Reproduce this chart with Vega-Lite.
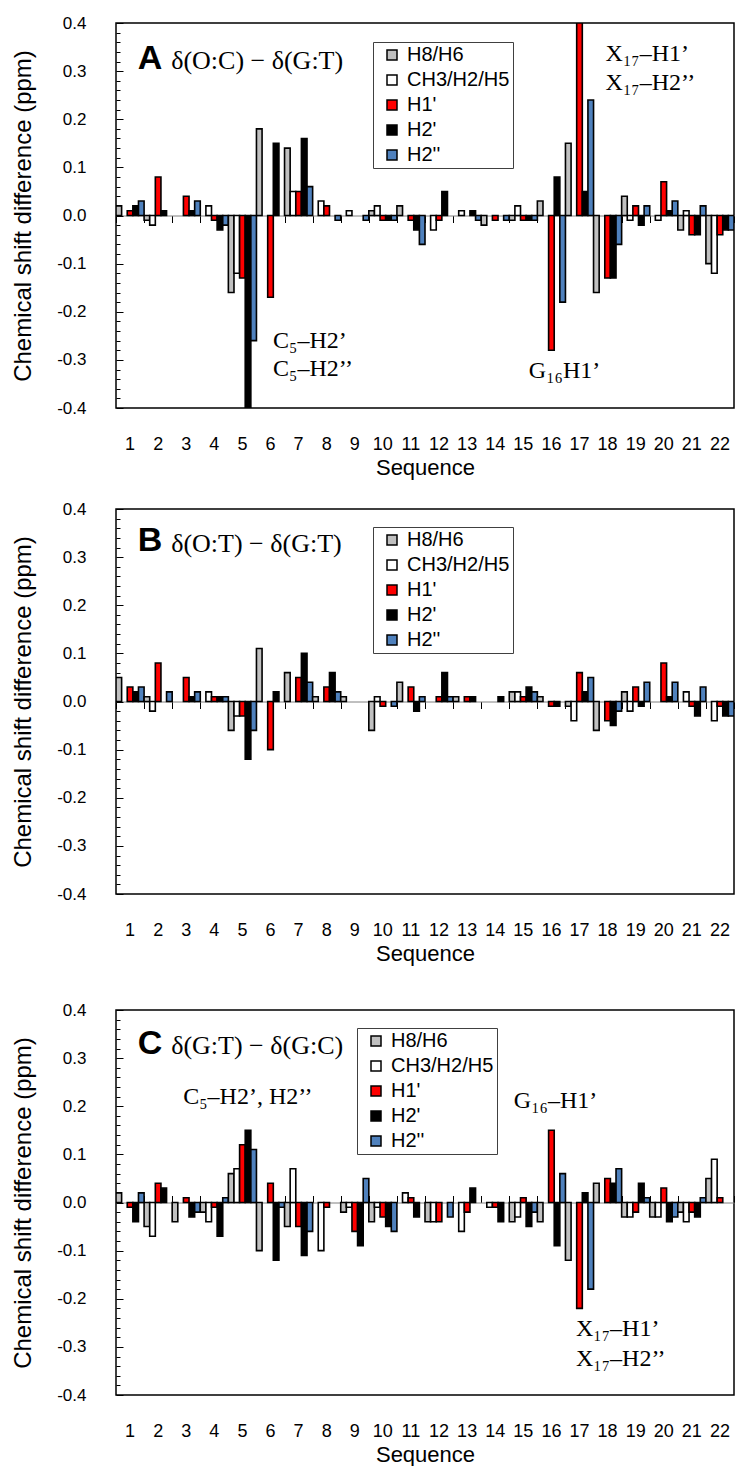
{
"$schema": "https://vega.github.io/schema/vega-lite/v6.json",
"padding": {"left": 10, "top": 13, "right": 2, "bottom": 0},
"background": "white",
"config": {
  "view": {"stroke": "black", "strokeWidth": 1.5},
  "axis": {"grid": false, "labelFont": "Liberation Sans", "titleFont": "Liberation Sans", "labelColor": "black", "titleColor": "black", "titleFontWeight": "normal"}
},
"datasets": {
"A": [
{"seq":1,"atom":"H8/H6","v":0.02},{"seq":1,"atom":"H1'","v":0.01},{"seq":1,"atom":"H2'","v":0.02},{"seq":1,"atom":"H2''","v":0.03},
{"seq":2,"atom":"H8/H6","v":-0.01},{"seq":2,"atom":"CH3/H2/H5","v":-0.02},{"seq":2,"atom":"H1'","v":0.08},{"seq":2,"atom":"H2'","v":0.01},
{"seq":3,"atom":"H1'","v":0.04},{"seq":3,"atom":"H2'","v":0.01},{"seq":3,"atom":"H2''","v":0.03},
{"seq":4,"atom":"CH3/H2/H5","v":0.02},{"seq":4,"atom":"H1'","v":-0.01},{"seq":4,"atom":"H2'","v":-0.03},{"seq":4,"atom":"H2''","v":-0.02},
{"seq":5,"atom":"H8/H6","v":-0.16},{"seq":5,"atom":"CH3/H2/H5","v":-0.12},{"seq":5,"atom":"H1'","v":-0.13},{"seq":5,"atom":"H2'","v":-0.4},{"seq":5,"atom":"H2''","v":-0.26},
{"seq":6,"atom":"H8/H6","v":0.18},{"seq":6,"atom":"H1'","v":-0.17},{"seq":6,"atom":"H2'","v":0.15},
{"seq":7,"atom":"H8/H6","v":0.14},{"seq":7,"atom":"CH3/H2/H5","v":0.05},{"seq":7,"atom":"H1'","v":0.05},{"seq":7,"atom":"H2'","v":0.16},{"seq":7,"atom":"H2''","v":0.06},
{"seq":8,"atom":"CH3/H2/H5","v":0.03},{"seq":8,"atom":"H1'","v":0.02},{"seq":8,"atom":"H2''","v":-0.01},
{"seq":9,"atom":"CH3/H2/H5","v":0.01},{"seq":9,"atom":"H2''","v":-0.01},
{"seq":10,"atom":"H8/H6","v":0.01},{"seq":10,"atom":"CH3/H2/H5","v":0.02},{"seq":10,"atom":"H1'","v":-0.01},{"seq":10,"atom":"H2'","v":-0.01},{"seq":10,"atom":"H2''","v":-0.01},
{"seq":11,"atom":"H8/H6","v":0.02},{"seq":11,"atom":"H1'","v":-0.01},{"seq":11,"atom":"H2'","v":-0.03},{"seq":11,"atom":"H2''","v":-0.06},
{"seq":12,"atom":"CH3/H2/H5","v":-0.03},{"seq":12,"atom":"H1'","v":-0.01},{"seq":12,"atom":"H2'","v":0.05},
{"seq":13,"atom":"CH3/H2/H5","v":0.01},{"seq":13,"atom":"H2'","v":0.01},{"seq":13,"atom":"H2''","v":-0.01},
{"seq":14,"atom":"H8/H6","v":-0.02},{"seq":14,"atom":"H1'","v":-0.01},{"seq":14,"atom":"H2''","v":-0.01},
{"seq":15,"atom":"H8/H6","v":-0.01},{"seq":15,"atom":"CH3/H2/H5","v":0.02},{"seq":15,"atom":"H1'","v":-0.01},{"seq":15,"atom":"H2'","v":-0.01},{"seq":15,"atom":"H2''","v":-0.01},
{"seq":16,"atom":"H8/H6","v":0.03},{"seq":16,"atom":"H1'","v":-0.28},{"seq":16,"atom":"H2'","v":0.08},{"seq":16,"atom":"H2''","v":-0.18},
{"seq":17,"atom":"H8/H6","v":0.15},{"seq":17,"atom":"H1'","v":0.4},{"seq":17,"atom":"H2'","v":0.05},{"seq":17,"atom":"H2''","v":0.24},
{"seq":18,"atom":"H8/H6","v":-0.16},{"seq":18,"atom":"H1'","v":-0.13},{"seq":18,"atom":"H2'","v":-0.13},{"seq":18,"atom":"H2''","v":-0.06},
{"seq":19,"atom":"H8/H6","v":0.04},{"seq":19,"atom":"CH3/H2/H5","v":-0.01},{"seq":19,"atom":"H1'","v":0.02},{"seq":19,"atom":"H2'","v":-0.02},{"seq":19,"atom":"H2''","v":0.02},
{"seq":20,"atom":"CH3/H2/H5","v":-0.01},{"seq":20,"atom":"H1'","v":0.07},{"seq":20,"atom":"H2'","v":0.01},{"seq":20,"atom":"H2''","v":0.03},
{"seq":21,"atom":"H8/H6","v":-0.03},{"seq":21,"atom":"CH3/H2/H5","v":0.01},{"seq":21,"atom":"H1'","v":-0.04},{"seq":21,"atom":"H2'","v":-0.04},{"seq":21,"atom":"H2''","v":0.02},
{"seq":22,"atom":"H8/H6","v":-0.1},{"seq":22,"atom":"CH3/H2/H5","v":-0.12},{"seq":22,"atom":"H1'","v":-0.04},{"seq":22,"atom":"H2'","v":-0.03},{"seq":22,"atom":"H2''","v":-0.03}
],
"B": [
{"seq":1,"atom":"H8/H6","v":0.05},{"seq":1,"atom":"H1'","v":0.03},{"seq":1,"atom":"H2'","v":0.02},{"seq":1,"atom":"H2''","v":0.03},
{"seq":2,"atom":"H8/H6","v":0.01},{"seq":2,"atom":"CH3/H2/H5","v":-0.02},{"seq":2,"atom":"H1'","v":0.08},{"seq":2,"atom":"H2''","v":0.02},
{"seq":3,"atom":"H1'","v":0.05},{"seq":3,"atom":"H2'","v":0.01},{"seq":3,"atom":"H2''","v":0.02},
{"seq":4,"atom":"CH3/H2/H5","v":0.02},{"seq":4,"atom":"H1'","v":0.01},{"seq":4,"atom":"H2'","v":0.01},{"seq":4,"atom":"H2''","v":0.01},
{"seq":5,"atom":"H8/H6","v":-0.06},{"seq":5,"atom":"CH3/H2/H5","v":-0.03},{"seq":5,"atom":"H1'","v":-0.03},{"seq":5,"atom":"H2'","v":-0.12},{"seq":5,"atom":"H2''","v":-0.06},
{"seq":6,"atom":"H8/H6","v":0.11},{"seq":6,"atom":"H1'","v":-0.1},{"seq":6,"atom":"H2'","v":0.02},
{"seq":7,"atom":"H8/H6","v":0.06},{"seq":7,"atom":"H1'","v":0.05},{"seq":7,"atom":"H2'","v":0.1},{"seq":7,"atom":"H2''","v":0.04},
{"seq":8,"atom":"H8/H6","v":0.01},{"seq":8,"atom":"H1'","v":0.03},{"seq":8,"atom":"H2'","v":0.06},{"seq":8,"atom":"H2''","v":0.02},
{"seq":9,"atom":"H8/H6","v":0.01},
{"seq":10,"atom":"H8/H6","v":-0.06},{"seq":10,"atom":"CH3/H2/H5","v":0.01},{"seq":10,"atom":"H1'","v":-0.01},{"seq":10,"atom":"H2''","v":-0.01},
{"seq":11,"atom":"H8/H6","v":0.04},{"seq":11,"atom":"H1'","v":0.03},{"seq":11,"atom":"H2'","v":-0.02},{"seq":11,"atom":"H2''","v":0.01},
{"seq":12,"atom":"H1'","v":0.01},{"seq":12,"atom":"H2'","v":0.06},{"seq":12,"atom":"H2''","v":0.01},
{"seq":13,"atom":"H8/H6","v":0.01},{"seq":13,"atom":"H1'","v":0.01},{"seq":13,"atom":"H2'","v":0.01},
{"seq":14,"atom":"H2'","v":0.01},
{"seq":15,"atom":"H8/H6","v":0.02},{"seq":15,"atom":"CH3/H2/H5","v":0.02},{"seq":15,"atom":"H1'","v":0.01},{"seq":15,"atom":"H2'","v":0.03},{"seq":15,"atom":"H2''","v":0.02},
{"seq":16,"atom":"H8/H6","v":0.01},{"seq":16,"atom":"H1'","v":-0.01},{"seq":16,"atom":"H2'","v":-0.01},
{"seq":17,"atom":"H8/H6","v":-0.01},{"seq":17,"atom":"CH3/H2/H5","v":-0.04},{"seq":17,"atom":"H1'","v":0.06},{"seq":17,"atom":"H2'","v":0.02},{"seq":17,"atom":"H2''","v":0.05},
{"seq":18,"atom":"H8/H6","v":-0.06},{"seq":18,"atom":"H1'","v":-0.04},{"seq":18,"atom":"H2'","v":-0.05},{"seq":18,"atom":"H2''","v":-0.02},
{"seq":19,"atom":"H8/H6","v":0.02},{"seq":19,"atom":"CH3/H2/H5","v":-0.02},{"seq":19,"atom":"H1'","v":0.03},{"seq":19,"atom":"H2'","v":-0.01},{"seq":19,"atom":"H2''","v":0.04},
{"seq":20,"atom":"H1'","v":0.08},{"seq":20,"atom":"H2'","v":0.01},{"seq":20,"atom":"H2''","v":0.04},
{"seq":21,"atom":"CH3/H2/H5","v":0.02},{"seq":21,"atom":"H1'","v":-0.01},{"seq":21,"atom":"H2'","v":-0.03},{"seq":21,"atom":"H2''","v":0.03},
{"seq":22,"atom":"CH3/H2/H5","v":-0.04},{"seq":22,"atom":"H1'","v":-0.01},{"seq":22,"atom":"H2'","v":-0.03},{"seq":22,"atom":"H2''","v":-0.03}
],
"C": [
{"seq":1,"atom":"H8/H6","v":0.02},{"seq":1,"atom":"H1'","v":-0.01},{"seq":1,"atom":"H2'","v":-0.04},{"seq":1,"atom":"H2''","v":0.02},
{"seq":2,"atom":"H8/H6","v":-0.05},{"seq":2,"atom":"CH3/H2/H5","v":-0.07},{"seq":2,"atom":"H1'","v":0.04},{"seq":2,"atom":"H2'","v":0.03},
{"seq":3,"atom":"H8/H6","v":-0.04},{"seq":3,"atom":"H1'","v":0.01},{"seq":3,"atom":"H2'","v":-0.03},{"seq":3,"atom":"H2''","v":-0.02},
{"seq":4,"atom":"H8/H6","v":-0.02},{"seq":4,"atom":"CH3/H2/H5","v":-0.04},{"seq":4,"atom":"H1'","v":-0.01},{"seq":4,"atom":"H2'","v":-0.07},{"seq":4,"atom":"H2''","v":0.01},
{"seq":5,"atom":"H8/H6","v":0.06},{"seq":5,"atom":"CH3/H2/H5","v":0.07},{"seq":5,"atom":"H1'","v":0.12},{"seq":5,"atom":"H2'","v":0.15},{"seq":5,"atom":"H2''","v":0.11},
{"seq":6,"atom":"H8/H6","v":-0.1},{"seq":6,"atom":"H1'","v":0.04},{"seq":6,"atom":"H2'","v":-0.12},{"seq":6,"atom":"H2''","v":-0.01},
{"seq":7,"atom":"H8/H6","v":-0.05},{"seq":7,"atom":"CH3/H2/H5","v":0.07},{"seq":7,"atom":"H1'","v":-0.05},{"seq":7,"atom":"H2'","v":-0.11},{"seq":7,"atom":"H2''","v":-0.06},
{"seq":8,"atom":"CH3/H2/H5","v":-0.1},{"seq":8,"atom":"H1'","v":-0.01},
{"seq":9,"atom":"H8/H6","v":-0.02},{"seq":9,"atom":"CH3/H2/H5","v":-0.01},{"seq":9,"atom":"H1'","v":-0.06},{"seq":9,"atom":"H2'","v":-0.09},{"seq":9,"atom":"H2''","v":0.05},
{"seq":10,"atom":"H8/H6","v":-0.04},{"seq":10,"atom":"CH3/H2/H5","v":-0.01},{"seq":10,"atom":"H1'","v":-0.03},{"seq":10,"atom":"H2'","v":-0.05},{"seq":10,"atom":"H2''","v":-0.06},
{"seq":11,"atom":"CH3/H2/H5","v":0.02},{"seq":11,"atom":"H1'","v":0.01},{"seq":11,"atom":"H2'","v":-0.03},
{"seq":12,"atom":"H8/H6","v":-0.04},{"seq":12,"atom":"CH3/H2/H5","v":-0.04},{"seq":12,"atom":"H1'","v":-0.04},{"seq":12,"atom":"H2''","v":-0.03},
{"seq":13,"atom":"CH3/H2/H5","v":-0.06},{"seq":13,"atom":"H1'","v":-0.02},{"seq":13,"atom":"H2'","v":0.03},
{"seq":14,"atom":"CH3/H2/H5","v":-0.01},{"seq":14,"atom":"H1'","v":-0.01},{"seq":14,"atom":"H2'","v":-0.04},
{"seq":15,"atom":"H8/H6","v":-0.04},{"seq":15,"atom":"CH3/H2/H5","v":-0.03},{"seq":15,"atom":"H1'","v":0.01},{"seq":15,"atom":"H2'","v":-0.05},{"seq":15,"atom":"H2''","v":-0.02},
{"seq":16,"atom":"H8/H6","v":-0.04},{"seq":16,"atom":"H1'","v":0.15},{"seq":16,"atom":"H2'","v":-0.09},{"seq":16,"atom":"H2''","v":0.06},
{"seq":17,"atom":"H8/H6","v":-0.12},{"seq":17,"atom":"H1'","v":-0.22},{"seq":17,"atom":"H2'","v":0.02},{"seq":17,"atom":"H2''","v":-0.18},
{"seq":18,"atom":"H8/H6","v":0.04},{"seq":18,"atom":"H1'","v":0.05},{"seq":18,"atom":"H2'","v":0.04},{"seq":18,"atom":"H2''","v":0.07},
{"seq":19,"atom":"H8/H6","v":-0.03},{"seq":19,"atom":"CH3/H2/H5","v":-0.03},{"seq":19,"atom":"H1'","v":-0.02},{"seq":19,"atom":"H2'","v":0.04},{"seq":19,"atom":"H2''","v":0.01},
{"seq":20,"atom":"H8/H6","v":-0.03},{"seq":20,"atom":"CH3/H2/H5","v":-0.03},{"seq":20,"atom":"H1'","v":0.03},{"seq":20,"atom":"H2'","v":-0.04},{"seq":20,"atom":"H2''","v":-0.03},
{"seq":21,"atom":"H8/H6","v":-0.02},{"seq":21,"atom":"CH3/H2/H5","v":-0.04},{"seq":21,"atom":"H1'","v":-0.02},{"seq":21,"atom":"H2'","v":-0.03},{"seq":21,"atom":"H2''","v":0.01},
{"seq":22,"atom":"H8/H6","v":0.05},{"seq":22,"atom":"CH3/H2/H5","v":0.09},{"seq":22,"atom":"H1'","v":0.01}
]
},
"spacing": 35,
"resolve": {"scale": {"color": "independent"}},
"vconcat": [
{
"spacing": 20,
"resolve": {"scale": {"color": "independent"}},
"vconcat": [
{
"width": 618, "height": 385,
"resolve": {"axis": {"x": "independent", "y": "independent"}},
"layer": [
{"data": {"name": "A"},
 "mark": {"type": "bar", "stroke": "black", "strokeWidth": 1.6, "clip": true},
 "encoding": {
  "x": {"field": "seq", "type": "ordinal", "scale": {"domain": [1,2,3,4,5,6,7,8,9,10,11,12,13,14,15,16,17,18,19,20,21,22], "paddingInner": 0, "paddingOuter": 0},
        "axis": {"orient": "bottom", "title": "Sequence", "ticks": false, "domain": false, "labelAngle": 0, "labelPadding": 27, "labelFontSize": 18, "titleFontSize": 22, "titlePadding": 4}},
  "xOffset": {"field": "atom", "type": "nominal", "scale": {"domain": ["H8/H6","CH3/H2/H5","H1'","H2'","H2''"], "paddingInner": 0, "paddingOuter": 0}},
  "y": {"field": "v", "type": "quantitative", "scale": {"domain": [-0.4, 0.4], "nice": false},
        "axis": {"orient": "left", "title": "Chemical shift difference (ppm)", "values": [-0.4,-0.3,-0.2,-0.1,0,0.1,0.2,0.3,0.4], "labelExpr": "replace(format(datum.value, '.1f'), '\u2212', '-')", "tickSize": -7, "tickColor": "black", "labelPadding": 37, "domain": false, "labelFontSize": 17, "titleFontSize": 24, "titlePadding": 21}},
  "color": {"field": "atom", "type": "nominal", "scale": {"domain": ["H8/H6","CH3/H2/H5","H1'","H2'","H2''"], "range": ["#c0c0c0","#ffffff","#ff0000","#000000","#4f81bd"]},
        "legend": {"orient": "none", "legendX": 257, "legendY": 19, "title": null, "direction": "vertical", "strokeColor": "#404040", "fillColor": "white", "padding": 3, "labelFont": "Liberation Sans", "labelFontSize": 20, "labelColor": "black", "symbolType": "square", "symbolSize": 100, "symbolOffset": 6, "rowPadding": 5, "labelOffset": 5, "labelLimit": 300}}
 }},
{"data": {"values": [{"seq": 2, "v": 0.326, "t": "A"}]},
 "mark": {"type": "text", "font": "Liberation Sans", "fontWeight": "bold", "fontSize": 34, "align": "center", "baseline": "middle", "dx": -8, "color": "black"},
 "encoding": {
  "x": {"field": "seq", "type": "ordinal", "axis": {"orient": "bottom", "offset": -192.5, "labels": false, "title": null, "ticks": true, "tickBand": "extent", "tickSize": 7, "tickColor": "black", "tickWidth": 1, "domain": true, "domainColor": "#808080", "domainWidth": 1}},
  "y": {"field": "v", "type": "quantitative", "axis": {"orient": "left", "values": [-0.38,-0.36,-0.34,-0.32,-0.28,-0.26,-0.24,-0.22,-0.18,-0.16,-0.14,-0.12,-0.08,-0.06,-0.04,-0.02,0.02,0.04,0.06,0.08,0.12,0.14,0.16,0.18,0.22,0.24,0.26,0.28,0.32,0.34,0.36,0.38], "labels": false, "title": null, "domain": false, "tickSize": -4, "tickColor": "black"}},
  "text": {"field": "t"}
 }},
{"data": {"values": [{"seq": 2, "v": 0.322, "t": "δ(O:C) − δ(G:T)"}]},
 "mark": {"type": "text", "font": "Liberation Serif", "fontSize": 26, "align": "left", "baseline": "middle", "dx": 13, "color": "black"},
 "encoding": {"x": {"field": "seq", "type": "ordinal", "axis": null}, "y": {"field": "v", "type": "quantitative", "axis": null}, "text": {"field": "t"}}},
{"data": {"values": [{"seq": 6, "v": -0.261, "t": "C₅–H2’"}, {"seq": 6, "v": -0.319, "t": "C₅–H2’’"}]},
 "mark": {"type": "text", "font": "Liberation Serif", "fontSize": 24, "align": "left", "baseline": "middle", "dx": 2.5, "color": "black"},
 "encoding": {"x": {"field": "seq", "type": "ordinal", "axis": null}, "y": {"field": "v", "type": "quantitative", "axis": null}, "text": {"field": "t"}}},
{"data": {"values": [{"seq": 15, "v": -0.323, "t": "G₁₆H1’"}]},
 "mark": {"type": "text", "font": "Liberation Serif", "fontSize": 24, "align": "left", "baseline": "middle", "dx": 5.5, "color": "black"},
 "encoding": {"x": {"field": "seq", "type": "ordinal", "axis": null}, "y": {"field": "v", "type": "quantitative", "axis": null}, "text": {"field": "t"}}},
{"data": {"values": [{"seq": 18, "v": 0.335, "t": "X₁₇–H1’"}, {"seq": 18, "v": 0.276, "t": "X₁₇–H2’’"}]},
 "mark": {"type": "text", "font": "Liberation Serif", "fontSize": 24, "align": "left", "baseline": "middle", "dx": -2, "color": "black"},
 "encoding": {"x": {"field": "seq", "type": "ordinal", "axis": null}, "y": {"field": "v", "type": "quantitative", "axis": null}, "text": {"field": "t"}}}
]
},
{
"width": 618, "height": 385,
"resolve": {"axis": {"x": "independent", "y": "independent"}},
"layer": [
{"data": {"name": "B"},
 "mark": {"type": "bar", "stroke": "black", "strokeWidth": 1.6, "clip": true},
 "encoding": {
  "x": {"field": "seq", "type": "ordinal", "scale": {"domain": [1,2,3,4,5,6,7,8,9,10,11,12,13,14,15,16,17,18,19,20,21,22], "paddingInner": 0, "paddingOuter": 0},
        "axis": {"orient": "bottom", "title": "Sequence", "ticks": false, "domain": false, "labelAngle": 0, "labelPadding": 27, "labelFontSize": 18, "titleFontSize": 22, "titlePadding": 4}},
  "xOffset": {"field": "atom", "type": "nominal", "scale": {"domain": ["H8/H6","CH3/H2/H5","H1'","H2'","H2''"], "paddingInner": 0, "paddingOuter": 0}},
  "y": {"field": "v", "type": "quantitative", "scale": {"domain": [-0.4, 0.4], "nice": false},
        "axis": {"orient": "left", "title": "Chemical shift difference (ppm)", "values": [-0.4,-0.3,-0.2,-0.1,0,0.1,0.2,0.3,0.4], "labelExpr": "replace(format(datum.value, '.1f'), '\u2212', '-')", "tickSize": -7, "tickColor": "black", "labelPadding": 37, "domain": false, "labelFontSize": 17, "titleFontSize": 24, "titlePadding": 21}},
  "color": {"field": "atom", "type": "nominal", "scale": {"domain": ["H8/H6","CH3/H2/H5","H1'","H2'","H2''"], "range": ["#c0c0c0","#ffffff","#ff0000","#000000","#4f81bd"]},
        "legend": {"orient": "none", "legendX": 257, "legendY": 18, "title": null, "direction": "vertical", "strokeColor": "#404040", "fillColor": "white", "padding": 3, "labelFont": "Liberation Sans", "labelFontSize": 20, "labelColor": "black", "symbolType": "square", "symbolSize": 100, "symbolOffset": 6, "rowPadding": 5, "labelOffset": 5, "labelLimit": 300}}
 }},
{"data": {"values": [{"seq": 2, "v": 0.333, "t": "B"}]},
 "mark": {"type": "text", "font": "Liberation Sans", "fontWeight": "bold", "fontSize": 34, "align": "center", "baseline": "middle", "dx": -8, "color": "black"},
 "encoding": {
  "x": {"field": "seq", "type": "ordinal", "axis": {"orient": "bottom", "offset": -192.5, "labels": false, "title": null, "ticks": true, "tickBand": "extent", "tickSize": 7, "tickColor": "black", "tickWidth": 1, "domain": true, "domainColor": "#808080", "domainWidth": 1}},
  "y": {"field": "v", "type": "quantitative", "axis": {"orient": "left", "values": [-0.38,-0.36,-0.34,-0.32,-0.28,-0.26,-0.24,-0.22,-0.18,-0.16,-0.14,-0.12,-0.08,-0.06,-0.04,-0.02,0.02,0.04,0.06,0.08,0.12,0.14,0.16,0.18,0.22,0.24,0.26,0.28,0.32,0.34,0.36,0.38], "labels": false, "title": null, "domain": false, "tickSize": -4, "tickColor": "black"}},
  "text": {"field": "t"}
 }},
{"data": {"values": [{"seq": 2, "v": 0.328, "t": "δ(O:T) − δ(G:T)"}]},
 "mark": {"type": "text", "font": "Liberation Serif", "fontSize": 26, "align": "left", "baseline": "middle", "dx": 13, "color": "black"},
 "encoding": {"x": {"field": "seq", "type": "ordinal", "axis": null}, "y": {"field": "v", "type": "quantitative", "axis": null}, "text": {"field": "t"}}}
]
}
]
},
{
"width": 618, "height": 385,
"resolve": {"axis": {"x": "independent", "y": "independent"}},
"layer": [
{"data": {"name": "C"},
 "mark": {"type": "bar", "stroke": "black", "strokeWidth": 1.6, "clip": true},
 "encoding": {
  "x": {"field": "seq", "type": "ordinal", "scale": {"domain": [1,2,3,4,5,6,7,8,9,10,11,12,13,14,15,16,17,18,19,20,21,22], "paddingInner": 0, "paddingOuter": 0},
        "axis": {"orient": "bottom", "title": "Sequence", "ticks": false, "domain": false, "labelAngle": 0, "labelPadding": 27, "labelFontSize": 18, "titleFontSize": 22, "titlePadding": 4}},
  "xOffset": {"field": "atom", "type": "nominal", "scale": {"domain": ["H8/H6","CH3/H2/H5","H1'","H2'","H2''"], "paddingInner": 0, "paddingOuter": 0}},
  "y": {"field": "v", "type": "quantitative", "scale": {"domain": [-0.4, 0.4], "nice": false},
        "axis": {"orient": "left", "title": "Chemical shift difference (ppm)", "values": [-0.4,-0.3,-0.2,-0.1,0,0.1,0.2,0.3,0.4], "labelExpr": "replace(format(datum.value, '.1f'), '\u2212', '-')", "tickSize": -7, "tickColor": "black", "labelPadding": 37, "domain": false, "labelFontSize": 17, "titleFontSize": 24, "titlePadding": 21}},
  "color": {"field": "atom", "type": "nominal", "scale": {"domain": ["H8/H6","CH3/H2/H5","H1'","H2'","H2''"], "range": ["#c0c0c0","#ffffff","#ff0000","#000000","#4f81bd"]},
        "legend": {"orient": "none", "legendX": 241, "legendY": 18, "title": null, "direction": "vertical", "strokeColor": "#404040", "fillColor": "white", "padding": 3, "labelFont": "Liberation Sans", "labelFontSize": 20, "labelColor": "black", "symbolType": "square", "symbolSize": 100, "symbolOffset": 6, "rowPadding": 5, "labelOffset": 5, "labelLimit": 300}}
 }},
{"data": {"values": [{"seq": 2, "v": 0.329, "t": "C"}]},
 "mark": {"type": "text", "font": "Liberation Sans", "fontWeight": "bold", "fontSize": 34, "align": "center", "baseline": "middle", "dx": -8, "color": "black"},
 "encoding": {
  "x": {"field": "seq", "type": "ordinal", "axis": {"orient": "top", "offset": -192.5, "labels": false, "title": null, "ticks": true, "tickBand": "extent", "tickSize": 7, "tickColor": "black", "tickWidth": 1, "domain": true, "domainColor": "#808080", "domainWidth": 1}},
  "y": {"field": "v", "type": "quantitative", "axis": {"orient": "left", "values": [-0.38,-0.36,-0.34,-0.32,-0.28,-0.26,-0.24,-0.22,-0.18,-0.16,-0.14,-0.12,-0.08,-0.06,-0.04,-0.02,0.02,0.04,0.06,0.08,0.12,0.14,0.16,0.18,0.22,0.24,0.26,0.28,0.32,0.34,0.36,0.38], "labels": false, "title": null, "domain": false, "tickSize": -4, "tickColor": "black"}},
  "text": {"field": "t"}
 }},
{"data": {"values": [{"seq": 2, "v": 0.325, "t": "δ(G:T) − δ(G:C)"}]},
 "mark": {"type": "text", "font": "Liberation Serif", "fontSize": 26, "align": "left", "baseline": "middle", "dx": 13, "color": "black"},
 "encoding": {"x": {"field": "seq", "type": "ordinal", "axis": null}, "y": {"field": "v", "type": "quantitative", "axis": null}, "text": {"field": "t"}}},
{"data": {"values": [{"seq": 3, "v": 0.219, "t": "C₅–H2’, H2’’"}]},
 "mark": {"type": "text", "font": "Liberation Serif", "fontSize": 24, "align": "left", "baseline": "middle", "dx": -3, "color": "black"},
 "encoding": {"x": {"field": "seq", "type": "ordinal", "axis": null}, "y": {"field": "v", "type": "quantitative", "axis": null}, "text": {"field": "t"}}},
{"data": {"values": [{"seq": 15, "v": 0.211, "t": "G₁₆–H1’"}]},
 "mark": {"type": "text", "font": "Liberation Serif", "fontSize": 24, "align": "left", "baseline": "middle", "dx": -9.5, "color": "black"},
 "encoding": {"x": {"field": "seq", "type": "ordinal", "axis": null}, "y": {"field": "v", "type": "quantitative", "axis": null}, "text": {"field": "t"}}},
{"data": {"values": [{"seq": 17, "v": -0.263, "t": "X₁₇–H1’"}, {"seq": 17, "v": -0.325, "t": "X₁₇–H2’’"}]},
 "mark": {"type": "text", "font": "Liberation Serif", "fontSize": 24, "align": "left", "baseline": "middle", "dx": -3.5, "color": "black"},
 "encoding": {"x": {"field": "seq", "type": "ordinal", "axis": null}, "y": {"field": "v", "type": "quantitative", "axis": null}, "text": {"field": "t"}}}
]
}
]
}
